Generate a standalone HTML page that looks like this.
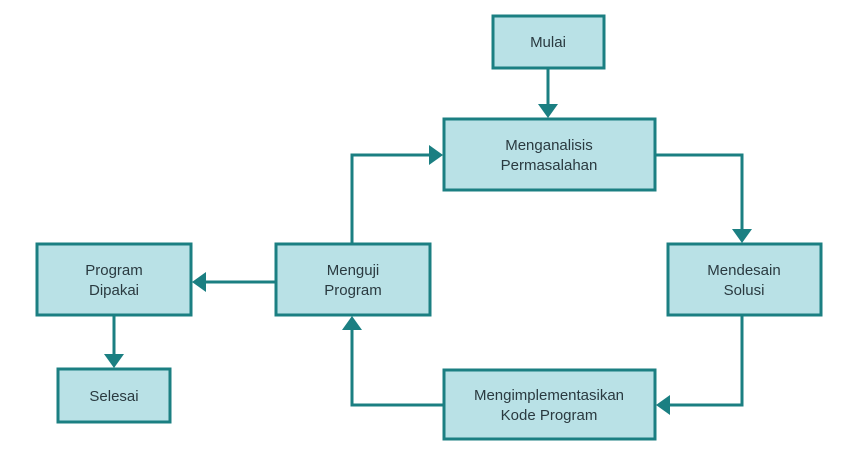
<!DOCTYPE html>
<html><head><style>
body{margin:0;background:#fff;}
svg text{font-family:"Liberation Sans","DejaVu Sans",sans-serif;font-size:15px;fill:#2a3a40;text-anchor:middle;}
</style></head><body>
<svg width="867" height="451" viewBox="0 0 867 451" xmlns="http://www.w3.org/2000/svg">
<g fill="#b9e1e6" stroke="#1b7f82" stroke-width="3">
<rect x="493" y="16" width="111" height="52"/>
<rect x="444" y="119" width="211" height="71"/>
<rect x="668" y="244" width="153" height="71"/>
<rect x="444" y="370" width="211" height="69"/>
<rect x="276" y="244" width="154" height="71"/>
<rect x="37" y="244" width="154" height="71"/>
<rect x="58" y="369" width="112" height="53"/>
</g>
<g fill="none" stroke="#1b7f82" stroke-width="3">
<path d="M548 68 V104"/>
<path d="M655 155 H742 V229"/>
<path d="M742 315 V405 H670"/>
<path d="M444 405 H352 V330"/>
<path d="M352 244 V155 H429"/>
<path d="M276 282 H206"/>
<path d="M114 315 V354"/>
</g>
<g fill="#1b7f82">
<polygon points="538,104 558,104 548,118"/>
<polygon points="732,229 752,229 742,243"/>
<polygon points="670,395 670,415 656,405"/>
<polygon points="342,330 362,330 352,316"/>
<polygon points="429,145 429,165 443,155"/>
<polygon points="206,272 206,292 192,282"/>
<polygon points="104,354 124,354 114,368"/>
</g>
<text x="548" y="47">Mulai</text>
<text x="549" y="150">Menganalisis</text>
<text x="549" y="170">Permasalahan</text>
<text x="744" y="275">Mendesain</text>
<text x="744" y="295">Solusi</text>
<text x="549" y="400">Mengimplementasikan</text>
<text x="549" y="420">Kode Program</text>
<text x="353" y="275">Menguji</text>
<text x="353" y="295">Program</text>
<text x="114" y="275">Program</text>
<text x="114" y="295">Dipakai</text>
<text x="114" y="401">Selesai</text>
</svg>
</body></html>
